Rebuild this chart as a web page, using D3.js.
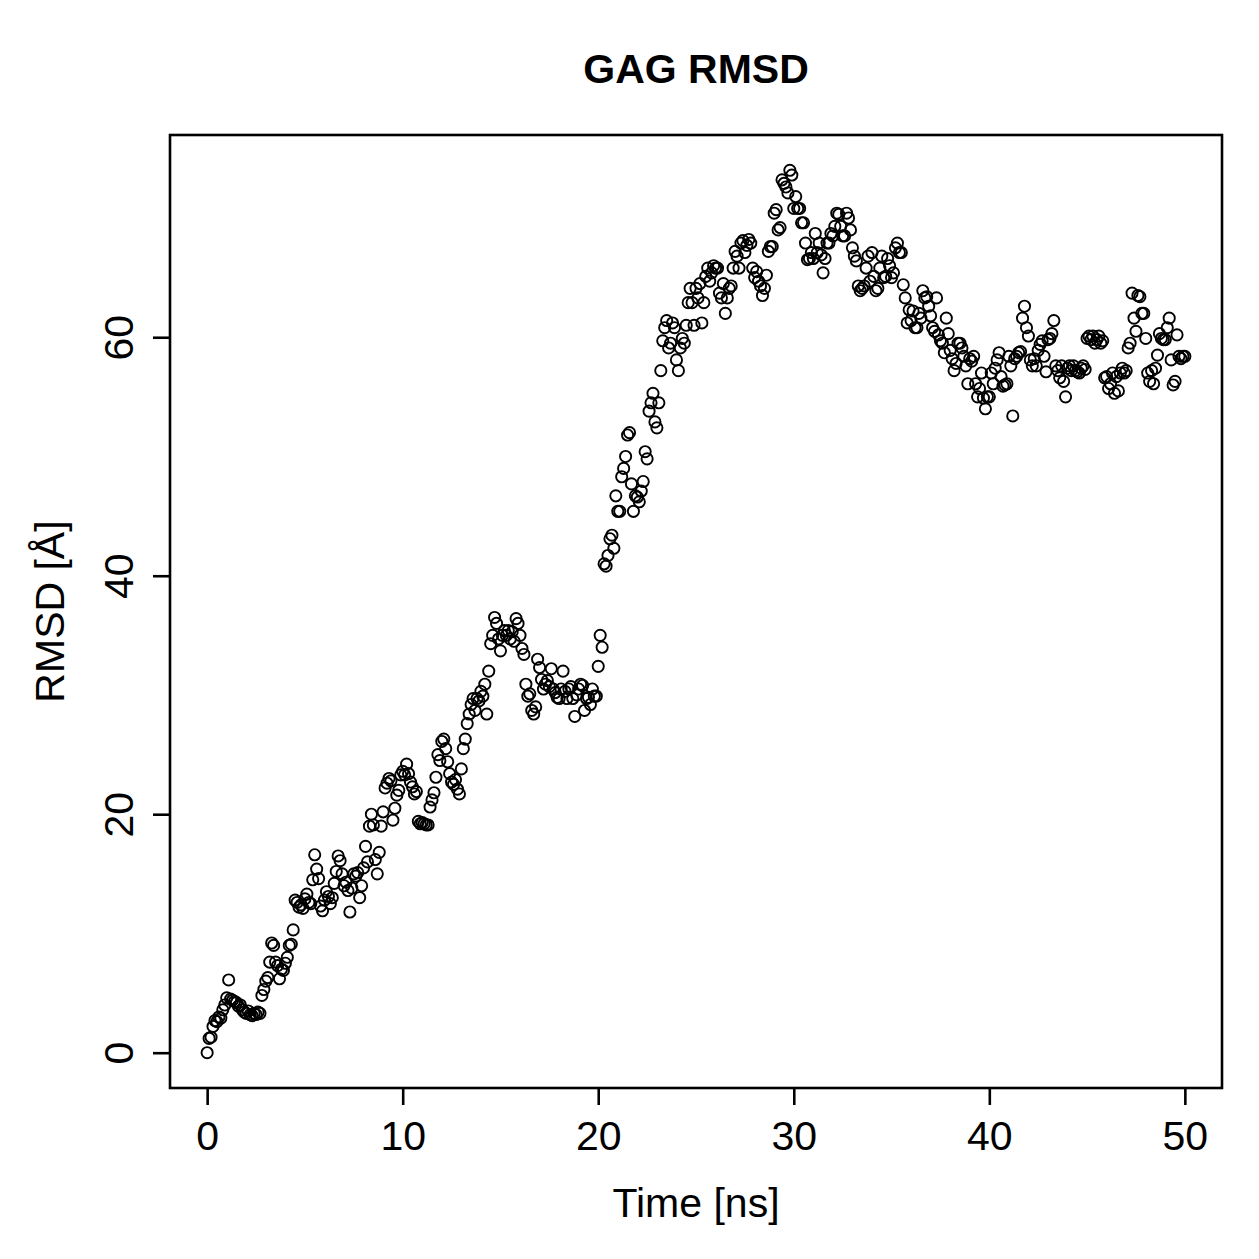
<!DOCTYPE html>
<html>
<head>
<meta charset="utf-8">
<script src="https://cdn.jsdelivr.net/npm/d3@7"></script>
<style>
  body { margin: 0; background: #fff; }
  text { font-family: "Liberation Sans", Arial, sans-serif; fill: #000; }
</style>
</head>
<body>
<div id="chart"></div>
<script>
// RMSD sampled every 0.1 ns, one row of 10 values per ns
var step = 0.1;
var rmsd = [
  0.0, 1.2, 1.3, 2.2, 2.7, 2.6, 3.0, 2.9, 3.6, 4.0,
  4.6, 6.1, 4.5, 4.4, 4.3, 4.2, 3.9, 4.0, 3.6, 3.4,
  3.3, 3.5, 3.2, 3.1, 3.3, 3.2, 3.4, 3.3, 4.8, 5.3,
  6.0, 6.3, 7.6, 9.2, 9.0, 7.6, 7.3, 6.2, 7.0, 6.9,
  7.5, 8.0, 9.0, 9.1, 10.3, 12.8, 12.6, 12.2, 12.4, 12.1,
  12.9, 13.3, 12.6, 12.5, 14.5, 16.6, 15.4, 14.6, 12.3, 11.9,
  12.8, 13.5, 13.1, 12.5, 13.0, 14.2, 15.2, 16.5, 16.1, 15.0,
  14.0, 14.3, 13.6, 11.8, 13.8, 15.0, 14.8, 15.1, 13.0, 14.0,
  15.5, 17.3, 16.0, 19.0, 20.0, 19.1, 16.2, 15.0, 16.8, 19.0,
  20.2, 22.2, 22.6, 23.0, 22.8, 19.5, 20.5, 21.6, 22.0, 23.3,
  23.6, 23.3, 24.2, 23.4, 22.7, 22.3, 21.7, 21.9, 19.4, 19.2,
  19.3, 19.2, 19.1, 19.1, 20.6, 21.2, 21.8, 23.1, 25.0, 24.5,
  26.1, 26.3, 25.5, 24.4, 23.4, 22.7, 22.5, 22.9, 22.1, 21.7,
  23.8, 25.5, 26.3, 27.6, 28.4, 29.2, 29.7, 28.7, 29.7, 29.5,
  30.3, 29.9, 30.9, 28.4, 32.0, 34.3, 35.0, 36.5, 36.0, 34.7,
  33.7, 35.0, 35.4, 35.0, 35.4, 34.7, 35.3, 34.5, 36.4, 36.0,
  35.0, 33.9, 33.4, 30.9, 29.9, 30.1, 28.7, 28.4, 29.0, 33.0,
  32.3, 31.3, 30.5, 30.9, 31.2, 30.7, 32.2, 30.5, 30.2, 29.8,
  29.7, 30.5, 32.0, 30.3, 29.7, 30.5, 30.7, 29.7, 28.2, 30.0,
  30.5, 30.9, 30.8, 28.7, 29.7, 29.8, 29.2, 30.5, 29.9, 29.9,
  32.4, 35.0, 34.0, 41.0, 40.8, 41.7, 43.1, 43.4, 42.3, 46.7,
  45.4, 45.4, 48.3, 49.0, 50.0, 51.8, 52.0, 47.7, 45.4, 46.7,
  46.6, 46.2, 47.1, 47.9, 50.4, 49.8, 53.8, 54.5, 55.3, 52.9,
  52.4, 54.5, 57.2, 59.7, 60.8, 61.4, 59.1, 59.5, 61.2, 60.8,
  58.1, 57.2, 59.1, 59.9, 59.5, 61.0, 62.9, 64.1, 62.9, 61.0,
  64.1, 63.3, 64.5, 61.2, 62.9, 65.1, 65.8, 64.7, 65.4, 66.0,
  65.8, 65.8, 63.7, 63.3, 64.5, 62.0, 63.3, 64.1, 64.3, 65.8,
  67.2, 66.8, 65.8, 67.9, 68.1, 67.1, 67.7, 68.2, 67.9, 65.8,
  65.0, 65.5, 64.7, 64.3, 63.5, 64.1, 65.2, 67.2, 67.6, 67.6,
  70.4, 70.7, 69.0, 69.2, 73.2, 72.9, 72.6, 72.1, 74.0, 73.6,
  70.8, 71.8, 70.8, 70.8, 69.6, 69.6, 67.9, 66.5, 66.6, 67.1,
  66.6, 68.7, 67.1, 67.9, 66.9, 65.4, 66.6, 67.9, 67.9, 68.7,
  68.5, 69.3, 70.4, 70.3, 69.3, 68.5, 68.5, 70.4, 70.0, 69.0,
  67.5, 66.8, 66.4, 64.3, 63.9, 64.1, 64.3, 65.8, 66.8, 64.7,
  67.1, 65.1, 63.9, 64.1, 65.8, 66.8, 65.0, 65.1, 66.6, 66.0,
  65.0, 65.4, 67.5, 67.9, 67.1, 67.1, 64.4, 63.3, 61.2, 62.3,
  61.4, 62.2, 60.8, 60.8, 62.0, 61.6, 63.9, 63.3, 63.4, 62.6,
  61.8, 60.8, 60.5, 63.3, 60.2, 59.7, 59.5, 58.7, 61.6, 60.3,
  58.9, 58.2, 57.2, 57.8, 59.5, 59.5, 59.1, 58.4, 57.6, 56.1,
  58.2, 58.0, 58.4, 56.1, 55.0, 55.7, 57.0, 54.9, 54.0, 55.0,
  55.0, 57.0, 56.1, 57.4, 58.1, 58.7, 56.7, 55.9, 56.0, 56.1,
  58.4, 57.6, 53.4, 58.2, 58.4, 58.7, 58.8, 61.6, 62.6, 60.8,
  60.1, 58.1, 57.6, 58.2, 57.6, 58.9, 59.4, 59.7, 58.4, 57.1,
  59.8, 59.9, 60.3, 61.4, 57.6, 57.2, 56.6, 57.6, 56.3, 55.0,
  57.4, 57.6, 57.2, 57.6, 57.2, 57.1, 57.0, 57.4, 57.6, 57.3,
  59.9, 60.1, 59.8, 60.1, 59.5, 59.8, 60.1, 59.5, 59.7, 56.6,
  56.7, 55.7, 56.1, 57.0, 55.3, 56.7, 55.5, 57.0, 57.4, 57.0,
  57.2, 59.1, 59.5, 63.7, 61.6, 60.5, 63.5, 63.4, 62.0, 62.0,
  59.9, 57.0, 56.3, 57.2, 56.1, 57.4, 58.5, 60.3, 59.9, 59.8,
  59.8, 60.8, 61.6, 58.1, 56.0, 56.3, 60.2, 58.4, 58.2, 58.4,
  58.4
];
var xTicks = [0, 10, 20, 30, 40, 50];
var yTicks = [0, 20, 40, 60];

var data = rmsd.map(function(v, i) {
  return {time: +(i * step).toFixed(1), value: v};
});

var w = 1259, h = 1259;
var box = {left: 170, right: 1222, top: 135, bottom: 1088};
var fs = '41px';

var svg = d3.select('#chart').append('svg')
  .attr('width', w)
  .attr('height', h);

// R style 4% padding on both axes
var tMax = d3.max(data, function(d) { return d.time; });
var vMax = d3.max(data, function(d) { return d.value; });
var x = d3.scaleLinear()
  .domain([-0.038 * tMax, tMax * 1.038])
  .range([box.left, box.right]);
var y = d3.scaleLinear()
  .domain([-0.04 * vMax, vMax * 1.04])
  .range([box.bottom, box.top]);

// points
svg.append('g')
  .selectAll('circle')
  .data(data)
  .enter().append('circle')
    .attr('cx', function(d) { return x(d.time); })
    .attr('cy', function(d) { return y(d.value); })
    .attr('r', 5.6)
    .style('fill', 'none')
    .style('stroke', '#000')
    .style('stroke-width', 1.9);

// frame
svg.append('rect')
  .attr('x', box.left)
  .attr('y', box.top)
  .attr('width', box.right - box.left)
  .attr('height', box.bottom - box.top)
  .style('fill', 'none')
  .style('stroke', '#000')
  .style('stroke-width', 2.6);

// axes
var xAxis = d3.axisBottom(x)
  .tickValues(xTicks)
  .tickSize(17)
  .tickPadding(16);
var gx = svg.append('g')
  .attr('transform', 'translate(0,' + box.bottom + ')')
  .call(xAxis);
gx.select('.domain').remove();
gx.selectAll('line').style('stroke-width', 2.6);
gx.selectAll('text').style('font-size', fs);

var yAxis = d3.axisLeft(y)
  .tickValues(yTicks)
  .tickSize(17)
  .tickPadding(10);
var gy = svg.append('g')
  .attr('transform', 'translate(' + box.left + ',0)')
  .call(yAxis);
gy.select('.domain').remove();
gy.selectAll('line').style('stroke-width', 2.6);
gy.selectAll('text')
  .style('font-size', fs)
  .attr('text-anchor', 'middle')
  .attr('x', null)
  .attr('dy', null)
  .attr('transform', 'translate(-37,0) rotate(-90)');

// titles
svg.append('text')
  .attr('x', (box.left + box.right) / 2)
  .attr('y', 83)
  .attr('text-anchor', 'middle')
  .style('font-size', '41px')
  .style('font-weight', 'bold')
  .text('GAG RMSD');

svg.append('text')
  .attr('x', (box.left + box.right) / 2)
  .attr('y', 1217)
  .attr('text-anchor', 'middle')
  .style('font-size', fs)
  .text('Time [ns]');

svg.append('text')
  .attr('transform', 'translate(64,' + (box.top + box.bottom) / 2 + ') rotate(-90)')
  .attr('text-anchor', 'middle')
  .style('font-size', fs)
  .text('RMSD [Å]');
</script>
</body>
</html>
